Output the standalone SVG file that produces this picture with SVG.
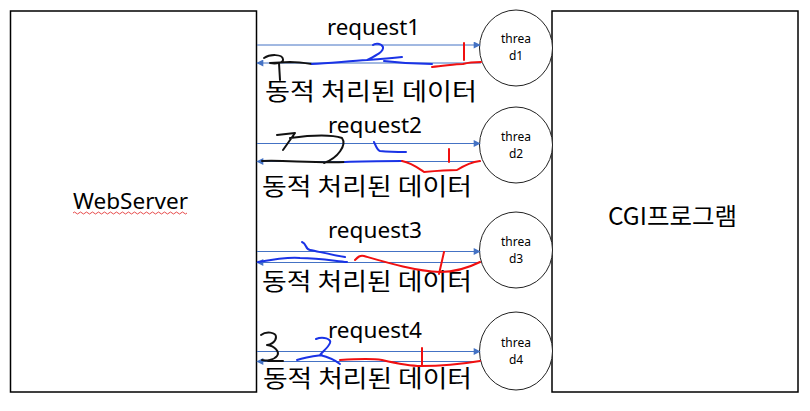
<svg xmlns="http://www.w3.org/2000/svg" width="810" height="411" viewBox="0 0 810 411">
<defs>
<marker id="ah" viewBox="0 0 10 10" refX="9" refY="5" markerWidth="9" markerHeight="7" markerUnits="userSpaceOnUse" orient="auto"><path d="M0,0 L10,5 L0,10 Z" fill="#4472C4"/></marker>
<style>
.box{fill:#fff;stroke:#000;stroke-width:1.5}
.th{fill:#fff;stroke:#222;stroke-width:1}
.lbl{font-family:"Noto Sans","Noto Sans CJK KR",sans-serif;fill:#000}
.kr{font-family:"Noto Sans CJK KR","Noto Sans",sans-serif;fill:#000}
.ln{stroke:#4472C4;stroke-width:1;fill:none;marker-end:url(#ah)}
.bk{stroke:#111;stroke-width:2;fill:none;stroke-linecap:round;stroke-linejoin:round}
.bl{stroke:#1a33e6;stroke-width:2;fill:none;stroke-linecap:round;stroke-linejoin:round}
.rd{stroke:#f01010;stroke-width:2;fill:none;stroke-linecap:round;stroke-linejoin:round}
</style>
</defs>
<rect width="810" height="411" fill="#fff"/>
<g id="webserver">
<rect class="box" x="10.5" y="11" width="246" height="381"/>
<text class="lbl" x="73" y="209" font-size="22" textLength="115" lengthAdjust="spacingAndGlyphs">WebServer</text>
<path d="M73,213 q1.5,-2 3,0 t3,0 t3,0 t3,0 t3,0 t3,0 t3,0 t3,0 t3,0 t3,0 t3,0 t3,0 t3,0 t3,0 t3,0 t3,0 t3,0 t3,0 t3,0 t3,0 t3,0 t3,0 t3,0 t3,0 t3,0 t3,0 t3,0 t3,0 t3,0 t3,0 t3,0 t3,0 t3,0 t3,0 t3,0 t3,0 t3,0 t3,0" fill="none" stroke="#e02020" stroke-width="0.8"/>
</g>
<g id="cgi">
<rect class="box" x="552" y="11" width="246" height="381"/>
<text class="kr" x="608" y="225" font-size="24" textLength="129" lengthAdjust="spacingAndGlyphs">CGI프로그램</text>
</g>
<g id="thread1">
<ellipse class="th" cx="516" cy="48" rx="36.5" ry="38"/>
<text class="lbl" x="516" y="43" font-size="12" text-anchor="middle">threa</text>
<text class="lbl" x="516" y="60" font-size="12" text-anchor="middle">d1</text>
</g>
<g id="thread2">
<ellipse class="th" cx="516" cy="145" rx="36.5" ry="38"/>
<text class="lbl" x="516" y="141" font-size="12" text-anchor="middle">threa</text>
<text class="lbl" x="516" y="158" font-size="12" text-anchor="middle">d2</text>
</g>
<g id="thread3">
<ellipse class="th" cx="516" cy="250" rx="36.5" ry="38"/>
<text class="lbl" x="516" y="246" font-size="12" text-anchor="middle">threa</text>
<text class="lbl" x="516" y="263" font-size="12" text-anchor="middle">d3</text>
</g>
<g id="thread4">
<ellipse class="th" cx="516" cy="351" rx="36.5" ry="39"/>
<text class="lbl" x="516" y="347" font-size="12" text-anchor="middle">threa</text>
<text class="lbl" x="516" y="364" font-size="12" text-anchor="middle">d4</text>
</g>
<g id="connectors">
<line class="ln" x1="257" y1="45" x2="480" y2="45"/>
<line class="ln" x1="481" y1="63" x2="257" y2="63"/>
<line class="ln" x1="257" y1="143.5" x2="480" y2="143.5"/>
<line class="ln" x1="481" y1="161.5" x2="257" y2="161.5"/>
<line class="ln" x1="257" y1="251.5" x2="480" y2="251.5"/>
<line class="ln" x1="481" y1="262.5" x2="257" y2="262.5"/>
<line class="ln" x1="257" y1="351.5" x2="480" y2="351.5"/>
<line class="ln" x1="481" y1="361.5" x2="257" y2="361.5"/>
</g>
<g id="labels">
<text class="lbl" x="327" y="35" font-size="22" textLength="93" lengthAdjust="spacingAndGlyphs">request1</text>
<text class="kr" x="265" y="100" font-size="24" textLength="212" lengthAdjust="spacingAndGlyphs">동적 처리된 데이터</text>
<text class="lbl" x="328" y="133" font-size="22" textLength="94" lengthAdjust="spacingAndGlyphs">request2</text>
<text class="kr" x="262" y="195" font-size="24" textLength="210" lengthAdjust="spacingAndGlyphs">동적 처리된 데이터</text>
<text class="lbl" x="328" y="238" font-size="22" textLength="94" lengthAdjust="spacingAndGlyphs">request3</text>
<text class="kr" x="262" y="290" font-size="24" textLength="210" lengthAdjust="spacingAndGlyphs">동적 처리된 데이터</text>
<text class="lbl" x="328" y="338" font-size="22" textLength="94" lengthAdjust="spacingAndGlyphs">request4</text>
<text class="kr" x="263" y="387" font-size="24" textLength="209" lengthAdjust="spacingAndGlyphs">동적 처리된 데이터</text>
</g>
<g id="scribbles">
<path class="bk" d="M264,58 C270,54 282,54 283,59 C284,63 276,64 270,63 L290,62 C298,62 305,63 312,64"/>
<path class="bk" d="M279,63 L280,80"/>
<path class="bl" d="M312,64 C330,63 350,61 367,60 C375,56 384,52 383,47 C381,43 375,43 373,45 M367,60 C380,59 392,58 402,57 M384,61 C400,63 415,64 432,64"/>
<path class="rd" d="M464,43 L464,60 M432,67 C445,66 455,64 463,64 C470,62 476,62 481,62"/>
<path class="bk" d="M277,135 L295,133 L283,150 M290,138 C305,136 330,134 342,138 C347,145 338,158 324,163 M262,161 C285,160 310,163 345,162"/>
<path class="bl" d="M374,142 C376,146 377,150 380,151 C390,152 398,152 406,152 M345,162 C365,161 385,161 402,161"/>
<path class="rd" d="M449,149 L449,162 M402,161 C412,163 418,168 424,172 C435,171 448,170 457,170 C465,165 472,162 480,161"/>
<path class="bl" d="M258,262 C275,259 290,257 300,258 C320,258 335,261 347,262 M302,242 C307,244 305,249 310,250 C320,252 333,255 345,257"/>
<path class="rd" d="M355,260 C358,257 360,255 364,256 C385,262 415,271 440,272 C455,272 470,267 480,262 M444,252 L439,274"/>
<path class="bk" d="M261,335 C266,331 276,332 276,337 C276,342 270,345 267,345 C275,346 280,352 277,356 C274,360 266,361 262,360 M268,361 L283,361"/>
<path class="bl" d="M297,360 C305,357 314,356 322,355 M316,339 C323,336 332,339 330,343 C328,348 322,352 320,355 C328,357 335,360 340,364"/>
<path class="rd" d="M422,348 L422,365 M340,360 C355,359 370,358 382,360 C395,363 408,366 421,366 C440,366 462,364 480,361"/>
</g>
</svg>
